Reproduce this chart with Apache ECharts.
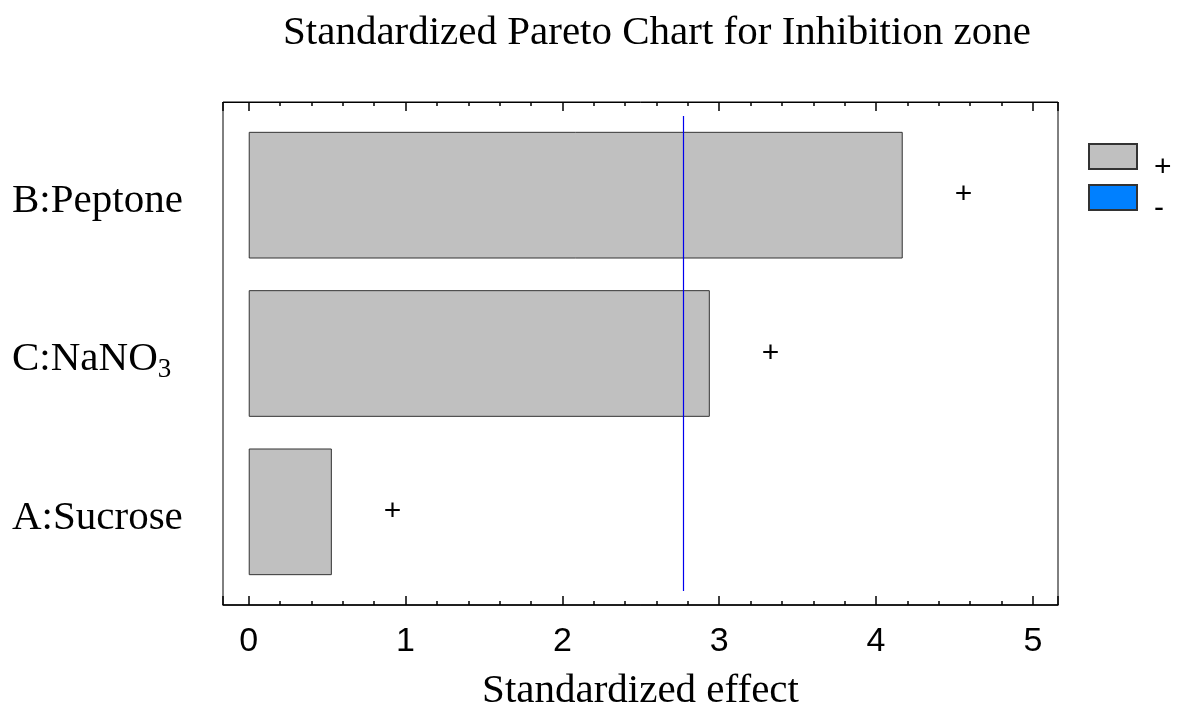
<!DOCTYPE html>
<html style="height: 100%">
<head>
    <meta charset="utf-8">
    <script src="https://cdn.jsdelivr.net/npm/echarts@6/dist/echarts.min.js"></script>
</head>
<body style="height: 100%; margin: 0; background: #fff">
<div id="container" style="width: 1184px; height: 711px"></div>

<script type="text/javascript">
    var dom = document.getElementById("container");
    var myChart = echarts.init(dom);

    // factors top to bottom, standardized effects
    var factors = ['B:Peptone', 'C:NaNO3', 'A:Sucrose'];
    var effects = [4.17, 2.94, 0.53];
    var signs = ['+', '+', '+'];
    var critical = 2.77;
    var xTicks = [0, 1, 2, 3, 4, 5];

    var serif = '"Liberation Serif", "Times New Roman", serif';
    var sans = '"Liberation Sans", Arial, sans-serif';

    var plusData = effects.map(function (v, i) {
        return {value: v, label: {formatter: signs[i]}};
    });

    var xRange = {min: -0.164, max: 5.16};

    function legendAt(name, top) {
        return {
            left: 1083, top: top,
            itemWidth: 48, itemHeight: 25,
            icon: 'rect',
            data: [name],
            formatter: '{t|{name}}',
            textStyle: {
                fontFamily: sans, fontSize: 30, color: '#000',
                rich: {t: {fontFamily: sans, fontSize: 30, color: '#000', padding: [22, 0, 0, 12]}}
            }
        };
    }

    var option = {
        animation: false,
        title: {
            text: 'Standardized Pareto Chart for Inhibition zone',
            left: 652,
            textAlign: 'center',
            top: 8,
            textStyle: {fontFamily: serif, fontSize: 41, fontWeight: 'normal', color: '#000'}
        },
        legend: [legendAt('+', 138), legendAt('-', 179)],
        grid: [
            // outer frame
            {left: 223, top: 102, width: 835, height: 503, show: true, borderColor: '#000', borderWidth: 1,
             containLabel: false, outerBoundsMode: 'none'},
            // bar area
            {left: 223, top: 116, width: 835, height: 475, containLabel: false, outerBoundsMode: 'none'}
        ],
        xAxis: [
            {
                gridIndex: 0, type: 'value', position: 'bottom',
                min: xRange.min, max: xRange.max, splitNumber: 5,
                name: 'Standardized effect', nameLocation: 'middle', nameGap: 66,
                nameTextStyle: {fontFamily: serif, fontSize: 41, color: '#000'},
                axisLine: {show: true, onZero: false, lineStyle: {color: '#000', width: 1.5}},
                axisTick: {show: true, inside: false, length: -9, lineStyle: {color: '#000', width: 1.5}},
                minorTick: {show: true, splitNumber: 5, length: -4, lineStyle: {color: '#000', width: 1.5}},
                axisLabel: {
                    fontFamily: sans, fontSize: 34, color: '#000', margin: 20,
                    customValues: xTicks, formatter: function (v) { return String(v); }
                },
                splitLine: {show: false}
            },
            {
                gridIndex: 0, type: 'value', position: 'top',
                min: xRange.min, max: xRange.max, splitNumber: 5,
                axisLine: {show: true, onZero: false, lineStyle: {color: '#000', width: 1}},
                axisTick: {show: true, inside: false, length: -9, lineStyle: {color: '#000', width: 1.5}},
                minorTick: {show: true, splitNumber: 5, length: -4, lineStyle: {color: '#000', width: 1.5}},
                axisLabel: {show: false},
                splitLine: {show: false}
            },
            {
                gridIndex: 1, type: 'value',
                min: xRange.min, max: xRange.max, show: false
            }
        ],
        yAxis: [
            {gridIndex: 0, type: 'value', show: false},
            {
                gridIndex: 1, type: 'category', inverse: true, data: factors,
                axisLine: {show: false}, axisTick: {show: false},
                axisLabel: {
                    align: 'left', margin: 211, color: '#000',
                    fontFamily: serif, fontSize: 41, padding: [12, 0, 0, 0],
                    formatter: function (v) {
                        var m = v.match(/^(.*?)(\d+)$/);
                        return m ? '{n|' + m[1] + '}{s|' + m[2] + '}' : '{n|' + v + '}';
                    },
                    rich: {
                        n: {fontFamily: serif, fontSize: 41, color: '#000'},
                        s: {fontFamily: serif, fontSize: 27, color: '#000', verticalAlign: 'bottom', padding: [20, 0, 0, 0]}
                    }
                }
            }
        ],
        series: [
            {
                name: '+', type: 'bar', xAxisIndex: 2, yAxisIndex: 1,
                data: plusData,
                barCategoryGap: '20%',
                barGap: '-100%',
                itemStyle: {color: '#c0c0c0', borderColor: '#333', borderWidth: 1},
                label: {
                    show: true, position: 'right', distance: 52,
                    fontFamily: sans, fontSize: 30, color: '#000'
                },
                markLine: {
                    silent: true, symbol: 'none',
                    label: {show: false},
                    lineStyle: {color: '#0000ee', width: 1.2, type: 'solid'},
                    data: [{xAxis: critical}]
                },
                z: 2
            },
            {
                name: '-', type: 'bar', xAxisIndex: 2, yAxisIndex: 1,
                data: [],
                barGap: '-100%',
                barCategoryGap: '20%',
                itemStyle: {color: '#0080ff', borderColor: '#333', borderWidth: 1}
            }
        ]
    };

    myChart.setOption(option, true);
</script>
</body>
</html>
